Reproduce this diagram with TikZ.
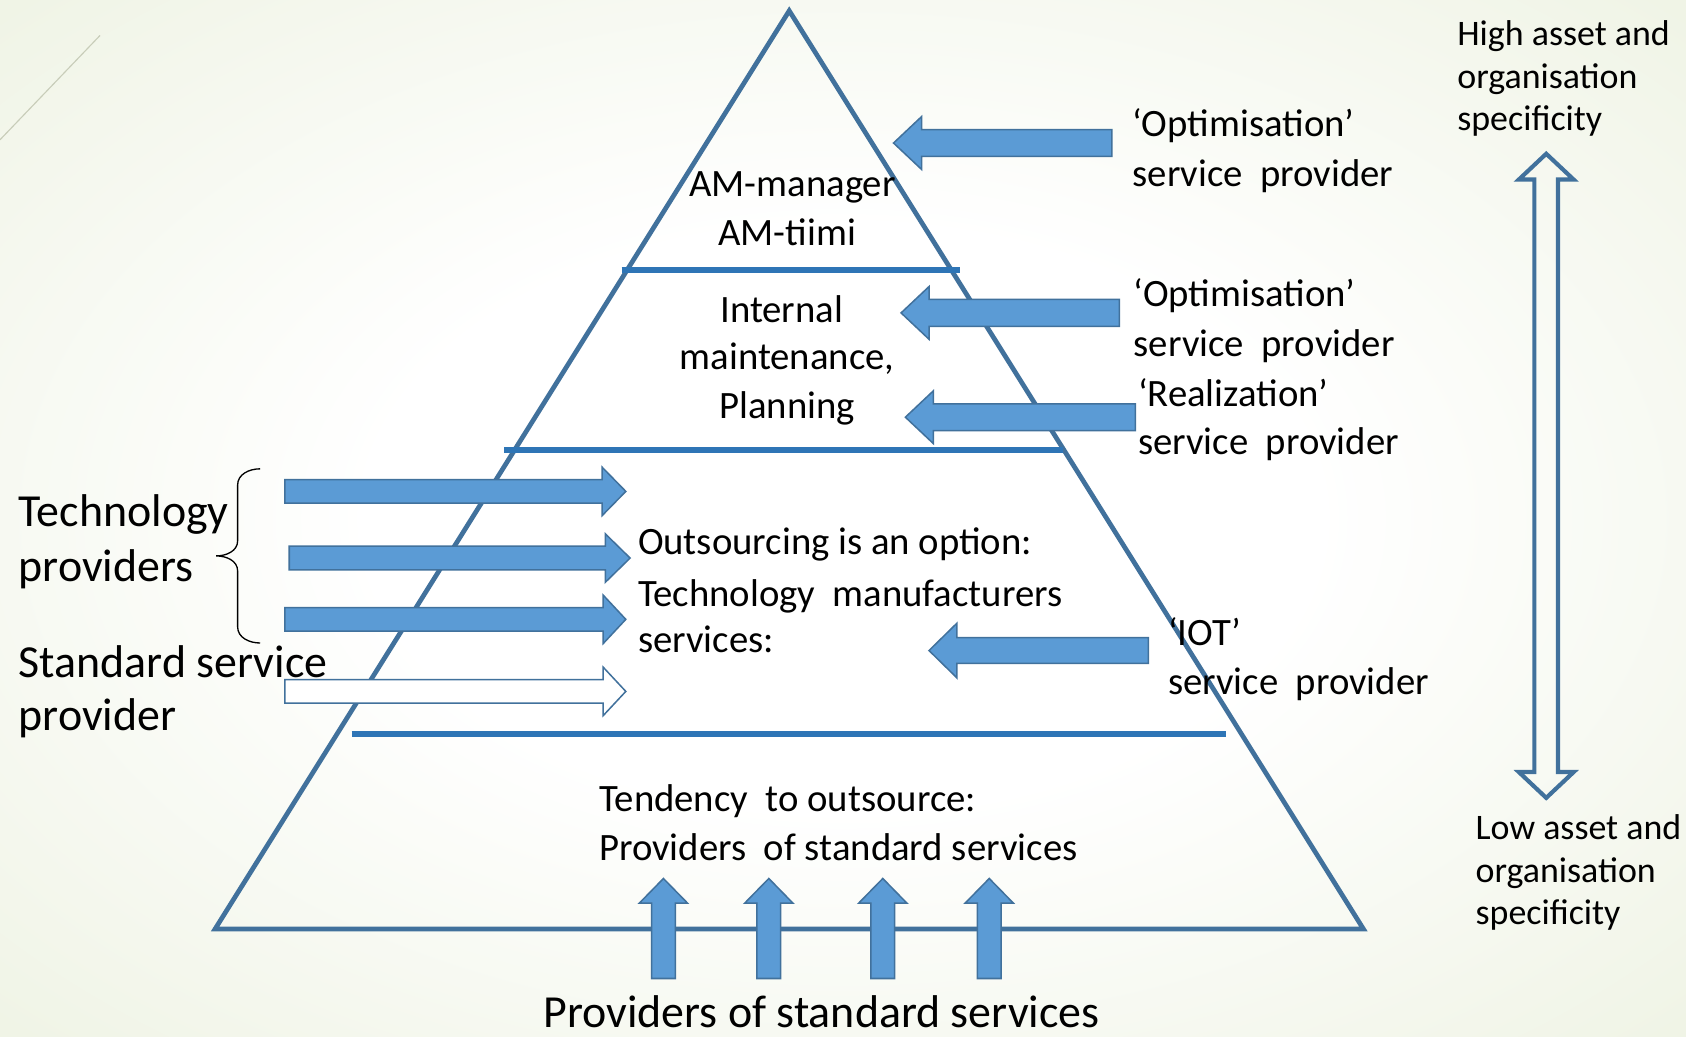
\documentclass[tikz,border=0pt]{standalone}
\usepackage{fontspec}
\setmainfont{Carlito}
\definecolor{triblue}{RGB}{65,113,156}
\definecolor{lineblue}{RGB}{46,117,182}
\definecolor{fillblue}{RGB}{91,155,213}
\definecolor{bgedge}{RGB}{229,236,212}
\definecolor{bgcorner}{RGB}{222,230,200}
\definecolor{faint}{RGB}{200,205,185}
\pgfdeclareradialshading{bgshade}{\pgfpoint{0bp}{0bp}}{color(0bp)=(white); color(14bp)=(white); color(50bp)=(bgedge); color(72bp)=(bgcorner)}
\tikzset{
  tri/.style={draw=triblue, line width=2.5pt, line join=miter},
  level/.style={draw=lineblue, line width=3pt},
  barrow/.style={fill=fillblue, draw=triblue, line width=0.8pt},
  warrow/.style={fill=white, draw=triblue, line width=0.8pt},
  dblarrow/.style={draw=triblue, line width=2.2pt, line join=miter},
  bracestyle/.style={draw=black, line width=0.7pt},
  mtxt/.style={font=\fontsize{20.5}{25}\selectfont, inner sep=0pt, anchor=base west},
  mctr/.style={font=\fontsize{20.5}{25}\selectfont, inner sep=0pt, anchor=base},
  ltxt/.style={font=\fontsize{24.3}{29}\selectfont, inner sep=0pt, anchor=base west},
  lctr/.style={font=\fontsize{24.3}{29}\selectfont, inner sep=0pt, anchor=base},
  stxt/.style={font=\fontsize{19}{23}\selectfont, inner sep=0pt, anchor=base west},
}
% horizontal block arrow: style, x tail, x head base, x tip, y, half body, half head
\newcommand\HArrow[7]{\draw[#1] (#2,#5-#6) -- (#3,#5-#6) -- (#3,#5-#7) -- (#4,#5) -- (#3,#5+#7) -- (#3,#5+#6) -- (#2,#5+#6) -- cycle;}
% vertical block arrow: style, x, y tail, y head base, y tip, half body, half head
\newcommand\VArrow[7]{\draw[#1] (#2-#6,#3) -- (#2-#6,#4) -- (#2-#7,#4) -- (#2,#5) -- (#2+#7,#4) -- (#2+#6,#4) -- (#2+#6,#3) -- cycle;}
\begin{document}
\begin{tikzpicture}[x=0.02cm,y=-0.02cm]
\useasboundingbox (0,0) rectangle (1568,964);
\shade[shading=bgshade] (0,0) rectangle (1568,964);
\draw[faint, line width=0.6pt] (0,130) -- (93,33);

% pyramid
\draw[tri] (734,10) -- (1268,864) -- (200,864) -- cycle;
\draw[level] (578,251) -- (893,251);
\draw[level] (469,418.5) -- (989,418.5);
\draw[level] (327,682.5) -- (1140,682.5);

% arrows from the right
\HArrow{barrow}{1034}{857}{831}{133}{12.5}{24.5}
\HArrow{barrow}{1041}{864}{838}{291}{12.5}{24.5}
\HArrow{barrow}{1056}{868}{842}{388}{12.5}{24.5}
\HArrow{barrow}{1068}{890}{864}{605}{12}{25.5}

% arrows from the left
\HArrow{barrow}{265}{560}{582}{457}{11}{22.5}
\HArrow{barrow}{269}{563}{586}{519}{11}{22.5}
\HArrow{barrow}{265}{561}{582}{576}{11}{22.5}
\HArrow{warrow}{265}{561}{582}{643}{11}{22.5}

% arrows from below
\VArrow{barrow}{617}{910}{840}{817}{11}{22.5}
\VArrow{barrow}{715}{910}{840}{817}{11}{22.5}
\VArrow{barrow}{821}{910}{840}{817}{11}{22.5}
\VArrow{barrow}{920}{910}{840}{817}{11}{22.5}

% double arrow (specificity scale)
\draw[dblarrow] (1438,143) -- (1463.5,167) -- (1449,167) -- (1449,718) -- (1463.5,718)
  -- (1438,742) -- (1412.5,718) -- (1427,718) -- (1427,167) -- (1412.5,167) -- cycle;

% brace
\draw[bracestyle] (242,436) to[out=180,in=90] (221,451) -- (221,503) to[out=-90,in=0] (201,517)
  to[out=0,in=90] (221,531) -- (221,583) to[out=-90,in=180] (242,598);

% pyramid texts
\node[mctr] (am1) at (737,183) {AM-manager};
\node[mctr] (am2) at (732,228) {AM-tiimi};
\node[mctr] (in1) at (727,299.5) {Internal};
\node[mctr] (in2) at (732,344) {maintenance,};
\node[mctr] (in3) at (732,389) {Planning};
\node[mtxt] (out1) at (593,516) {Outsourcing is an option:};
\node[mtxt] (out2) at (593,564) {Technology\ \ manufacturers};
\node[mtxt] (out3) at (593,607) {services:};
\node[mtxt] (ten1) at (557,755) {Tendency\ \ to outsource:};
\node[mtxt] (ten2) at (557,800) {Providers\ \ of standard services};

% right texts
\node[mtxt] (op1a) at (1053,127) {‘Optimisation’};
\node[mtxt] (op1b) at (1053,173) {service\ \ provider};
\node[mtxt] (op2a) at (1054,285) {‘Optimisation’};
\node[mtxt] (op2b) at (1054,332) {service\ \ provider};
\node[mtxt] (rea1) at (1058,378) {‘Realization’};
\node[mtxt] (rea2) at (1058,423) {service\ \ provider};
\node[mtxt] (iot1) at (1086,600) {‘IOT’};
\node[mtxt] (iot2) at (1086,646) {service\ \ provider};

% left texts
\node[ltxt] (tp1) at (17,490) {Technology};
\node[ltxt] (tp2) at (17,541) {providers};
\node[ltxt] (ss1) at (17,630) {Standard service};
\node[ltxt] (ss2) at (17,679) {provider};
\node[lctr] (bot) at (764,956) {Providers of standard services};

% scale texts
\node[stxt] (hi1) at (1355,42) {High asset and};
\node[stxt] (hi2) at (1355,82) {organisation};
\node[stxt] (hi3) at (1355,121) {specificity};
\node[stxt] (lo1) at (1372,781) {Low asset and};
\node[stxt] (lo2) at (1372,821) {organisation};
\node[stxt] (lo3) at (1372,860) {specificity};
\end{tikzpicture}
\end{document}
